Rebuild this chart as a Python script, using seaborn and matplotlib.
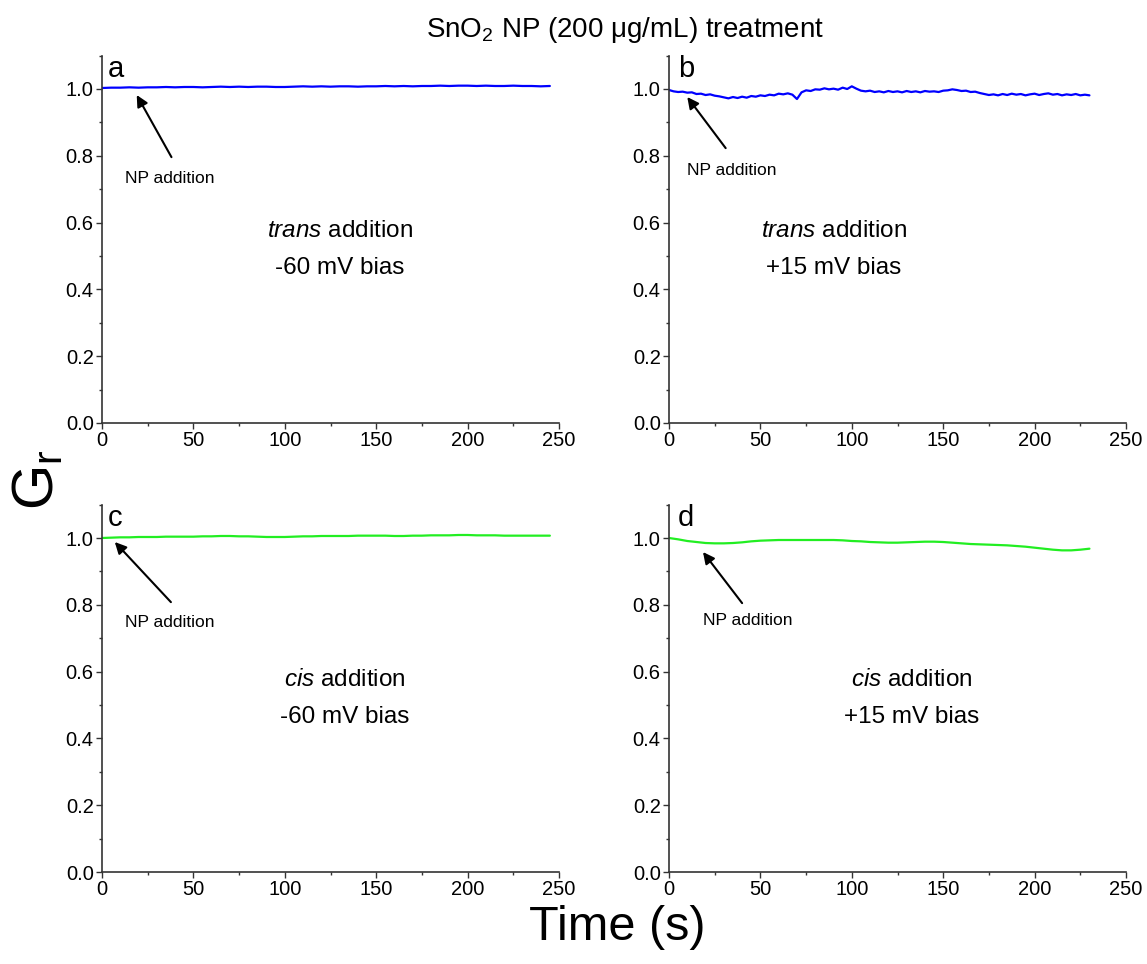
import numpy as np
import pandas as pd
import matplotlib
matplotlib.use("Agg")
import matplotlib.pyplot as plt
import seaborn as sns
from matplotlib.ticker import MultipleLocator, FormatStrFormatter

# ---- data ----
time_a = np.arange(0, 250, 5)
gr_a = [1.003, 1.004, 1.004, 1.005, 1.004, 1.005, 1.005, 1.006, 1.005, 1.006,
        1.006, 1.005, 1.006, 1.007, 1.006, 1.007, 1.006, 1.007, 1.007, 1.006,
        1.006, 1.007, 1.008, 1.007, 1.008, 1.007, 1.008, 1.008, 1.007, 1.008,
        1.008, 1.009, 1.008, 1.009, 1.008, 1.009, 1.009, 1.010, 1.009, 1.010,
        1.010, 1.009, 1.010, 1.009, 1.009, 1.010, 1.009, 1.009, 1.008, 1.009]

time_b = np.arange(0, 232.5, 2.5)
gr_b = [0.997, 0.993, 0.991, 0.992, 0.989, 0.990, 0.985, 0.986, 0.982, 0.984,
        0.980, 0.978, 0.975, 0.972, 0.976, 0.973, 0.977, 0.974, 0.979, 0.977,
        0.981, 0.979, 0.983, 0.981, 0.986, 0.984, 0.987, 0.983, 0.970, 0.990,
        0.996, 0.994, 0.999, 0.998, 1.002, 0.999, 1.001, 0.998, 1.004, 1.000,
        1.008, 1.001, 0.995, 0.993, 0.995, 0.991, 0.993, 0.990, 0.994, 0.991,
        0.993, 0.990, 0.994, 0.991, 0.993, 0.990, 0.994, 0.992, 0.993, 0.991,
        0.995, 0.996, 0.999, 0.997, 0.994, 0.995, 0.991, 0.992, 0.988, 0.985,
        0.982, 0.984, 0.981, 0.985, 0.982, 0.986, 0.983, 0.985, 0.981, 0.984,
        0.986, 0.982, 0.985, 0.987, 0.983, 0.985, 0.981, 0.984, 0.982, 0.985,
        0.981, 0.983, 0.981]

time_c = np.arange(0, 250, 5)
gr_c = [1.000, 1.001, 1.002, 1.002, 1.003, 1.003, 1.003, 1.004, 1.004, 1.004,
        1.004, 1.005, 1.005, 1.006, 1.006, 1.005, 1.005, 1.004, 1.003, 1.003,
        1.003, 1.004, 1.005, 1.005, 1.006, 1.006, 1.006, 1.006, 1.007, 1.007,
        1.007, 1.007, 1.006, 1.006, 1.007, 1.007, 1.008, 1.008, 1.008, 1.009,
        1.009, 1.008, 1.008, 1.008, 1.007, 1.007, 1.007, 1.007, 1.007, 1.007]

time_d = np.arange(0, 235, 5)
gr_d = [1.000, 0.996, 0.991, 0.988, 0.985, 0.984, 0.984, 0.985, 0.987, 0.990,
        0.992, 0.993, 0.994, 0.994, 0.994, 0.994, 0.994, 0.994, 0.994, 0.993,
        0.991, 0.990, 0.988, 0.987, 0.986, 0.986, 0.987, 0.988, 0.989, 0.989,
        0.988, 0.986, 0.984, 0.982, 0.981, 0.980, 0.979, 0.978, 0.976, 0.974,
        0.971, 0.968, 0.965, 0.963, 0.963, 0.965, 0.968]

panel_letters = ["a", "b", "c", "d"]
side_names = [r"$\mathit{trans}$ addition", r"$\mathit{trans}$ addition",
              r"$\mathit{cis}$ addition", r"$\mathit{cis}$ addition"]
bias_labels = ["-60 mV bias", "+15 mV bias", "-60 mV bias", "+15 mV bias"]
line_colors = ["#0000ff", "#0000ff", "#22ee22", "#22ee22"]

# annotation anchors (data coords): arrow head, arrow tail, label, centre text x
arrow_heads = [(19, 0.982), (10, 0.976), (7, 0.988), (18.6, 0.958)]
arrow_tails = [(38, 0.796), (31, 0.823), (37.7, 0.808), (40, 0.805)]
label_pos = [(37, 0.733), (34.4, 0.757), (37, 0.746), (43.3, 0.754)]
centre_x = [130, 90, 133, 133]

sns.set_theme(style="ticks")
plt.rcParams["font.family"] = ["Liberation Sans", "DejaVu Sans"]
plt.rcParams["text.color"] = "black"
plt.rcParams["mathtext.fontset"] = "custom"
plt.rcParams["mathtext.rm"] = "Liberation Sans"
plt.rcParams["mathtext.it"] = "Liberation Sans:italic"
plt.rcParams["mathtext.default"] = "regular"

fig = plt.figure(figsize=(11.47, 9.64), dpi=100)
W, H = 1147, 964
boxes = [(102, 423), (669, 423), (102, 872), (669, 872)]
ax_w, ax_h = 457, 367.4

series = [(time_a, gr_a), (time_b, gr_b), (time_c, gr_c), (time_d, gr_d)]

for i, (x0, y0) in enumerate(boxes):
    ax = fig.add_axes([x0 / W, 1 - y0 / H, ax_w / W, ax_h / H])
    t, g = series[i]
    df = pd.DataFrame({"time": t, "gr": g})
    sns.lineplot(data=df, x="time", y="gr", ax=ax, color=line_colors[i], lw=1.6)

    ax.set_xlim(0, 250)
    ax.set_ylim(0, 1.1)
    ax.xaxis.set_major_locator(MultipleLocator(50))
    ax.xaxis.set_minor_locator(MultipleLocator(25))
    ax.yaxis.set_major_locator(MultipleLocator(0.2))
    ax.yaxis.set_minor_locator(MultipleLocator(0.1))
    ax.yaxis.set_major_formatter(FormatStrFormatter("%.1f"))
    ax.set_xlabel("")
    ax.set_ylabel("")
    for s in ["top", "right"]:
        ax.spines[s].set_visible(False)
    for s in ["left", "bottom"]:
        ax.spines[s].set_color("#333333")
        ax.spines[s].set_linewidth(1.2)
    ax.tick_params(which="major", length=4, width=1, color="#333333",
                   labelsize=14.5, labelcolor="black", pad=2)
    ax.tick_params(which="minor", length=2.5, width=1, color="#333333")

    ax.text(3 if i % 2 == 0 else 5, 1.035, panel_letters[i], fontsize=21,
            va="baseline", ha="left")
    ax.annotate("", xy=arrow_heads[i], xytext=arrow_tails[i],
                arrowprops=dict(arrowstyle="-|>", color="black", lw=1.5,
                                mutation_scale=17, shrinkA=0, shrinkB=0))
    ax.text(*label_pos[i], "NP addition", fontsize=12.5, ha="center", va="center")
    ax.text(centre_x[i], 0.575, side_names[i], fontsize=17.5, ha="center", va="center")
    ax.text(centre_x[i], 0.465, bias_labels[i], fontsize=17.5, ha="center", va="center")

fig.text(625 / W, 1 - 30 / H, "SnO$_2$ NP (200 μg/mL) treatment", fontsize=20,
         ha="center", va="center")
fig.text(617 / W, 1 - 928 / H, "Time (s)", fontsize=35, ha="center", va="center")
fig.text(38 / W, 1 - 480 / H, "G$_r$", fontsize=42, rotation=90,
         ha="center", va="center")

fig.savefig("out.png", dpi=100)
